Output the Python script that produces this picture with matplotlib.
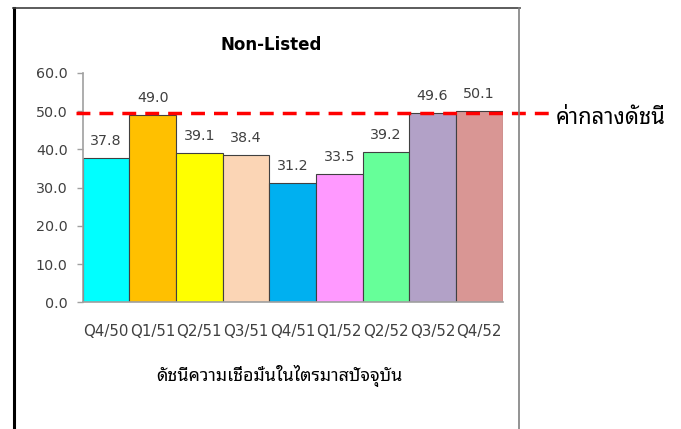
import matplotlib
matplotlib.use("Agg")
import matplotlib.pyplot as plt
from matplotlib.lines import Line2D

# Quarterly index values (Non-Listed companies)
quarters = ["Q4/50", "Q1/51", "Q2/51", "Q3/51", "Q4/51", "Q1/52", "Q2/52", "Q3/52", "Q4/52"]
values = [37.8, 49.0, 39.1, 38.4, 31.2, 33.5, 39.2, 49.6, 50.1]
bar_colors = ["#00FFFF", "#FFC000", "#FFFF00", "#FBD5B5", "#00B0F0",
              "#FF99FF", "#66FF99", "#B2A1C7", "#D99694"]
median_level = 49.5
yticks = [0, 10, 20, 30, 40, 50, 60]

title = "Non-Listed"
xlabel = "ดัชนีความเชื่อมั่นในไตรมาสปัจจุบัน"
median_label = "ค่ากลางดัชนี"

thai_fonts = ["Noto Sans Thai Looped", "Noto Sans Thai", "Sarabun", "Athiti", "DejaVu Sans"]
txt_gray = "#404040"
axis_gray = "#A0A0A0"

W, H = 681, 429
fig = plt.figure(figsize=(W / 100, H / 100), dpi=100)
fig.patch.set_facecolor("white")

# plot area in pixels: x 82.7..502.5, y 72.8..302.3
ax = fig.add_axes([82.7 / W, 1 - 302.3 / H, 419.8 / W, 229.5 / H])

x = range(len(values))
ax.bar(x, values, width=1.0, color=bar_colors, edgecolor="#404040", linewidth=0.8, zorder=2)

for i, v in enumerate(values):
    ax.annotate("%.1f" % v, (i, v), xytext=(0, 12.2), textcoords="offset points",
                ha="center", va="center", fontsize=10.3, color=txt_gray)

# median reference line, runs a bit past both sides of the plot area
ax.axhline(median_level, xmin=-0.016, xmax=1.13, color="#FF0000", linewidth=2.5,
           dashes=(4, 2.6), clip_on=False, zorder=3)

ax.set_xlim(-0.5, len(values) - 0.5)
ax.set_ylim(0, 60)
ax.set_yticks(yticks)
ax.set_yticklabels(["%.1f" % t for t in yticks])
ax.set_xticks(list(x))
ax.set_xticklabels(quarters)

ax.tick_params(axis="y", length=4.3, width=1, color=axis_gray, pad=6.5,
               labelsize=10.3, labelcolor=txt_gray)
ax.tick_params(axis="x", length=0, pad=15.5, labelsize=10.8, labelcolor=txt_gray)

for side in ["top", "right"]:
    ax.spines[side].set_visible(False)
for side in ["left", "bottom"]:
    ax.spines[side].set_color(axis_gray)
    ax.spines[side].set_linewidth(1.2)

fig.text(271 / W, 1 - 45.5 / H, title, ha="center", va="center",
         fontsize=12, fontweight="bold", color="black")
fig.text(279 / W, 1 - 376 / H, xlabel, ha="center", va="center",
         fontsize=12.8, color="black", family=thai_fonts)
fig.text(556 / W, 1 - 118 / H, median_label, ha="left", va="center",
         fontsize=15.8, color="black", family=thai_fonts)

# outer chart frame
fig.add_artist(Line2D([14 / W, 14 / W], [0, 1 - 7.5 / H], color="black", linewidth=2.2))
fig.add_artist(Line2D([13 / W, 519.5 / W], [1 - 8 / H, 1 - 8 / H], color="#404040", linewidth=1.2))
fig.add_artist(Line2D([519.2 / W, 519.2 / W], [0, 1 - 8 / H], color="#808080", linewidth=1.2))

fig.savefig("out.png", dpi=100)
